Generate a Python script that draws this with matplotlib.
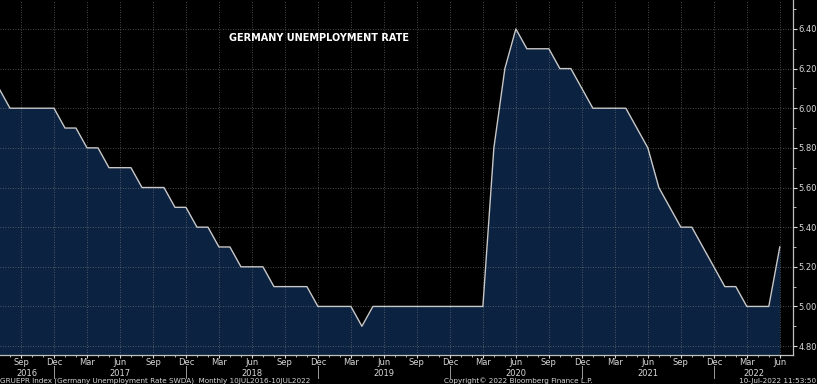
import matplotlib
matplotlib.use("Agg")
import matplotlib.pyplot as plt
from matplotlib.ticker import FixedLocator, MultipleLocator
import numpy as np

# Monthly data, Jul 2016 .. Jun 2022
start_year, start_month = 2016, 7
rates = [
    6.1, 6.0, 6.0, 6.0, 6.0, 6.0,                                  # 2016 Jul-Dec
    5.9, 5.9, 5.8, 5.8, 5.7, 5.7, 5.7, 5.6, 5.6, 5.6, 5.5, 5.5,    # 2017
    5.4, 5.4, 5.3, 5.3, 5.2, 5.2, 5.2, 5.1, 5.1, 5.1, 5.1, 5.0,    # 2018
    5.0, 5.0, 5.0, 4.9, 5.0, 5.0, 5.0, 5.0, 5.0, 5.0, 5.0, 5.0,    # 2019
    5.0, 5.0, 5.0, 5.8, 6.2, 6.4, 6.3, 6.3, 6.3, 6.2, 6.2, 6.1,    # 2020
    6.0, 6.0, 6.0, 6.0, 5.9, 5.8, 5.6, 5.5, 5.4, 5.4, 5.3, 5.2,    # 2021
    5.1, 5.1, 5.0, 5.0, 5.0, 5.3,                                  # 2022 Jan-Jun
]
month_names = ["Jan", "Feb", "Mar", "Apr", "May", "Jun",
               "Jul", "Aug", "Sep", "Oct", "Nov", "Dec"]
y_ticks = [4.80, 5.00, 5.20, 5.40, 5.60, 5.80, 6.00, 6.20, 6.40]
title = "GERMANY UNEMPLOYMENT RATE"
footer_left = "GRUEPR Index (Germany Unemployment Rate SWDA)  Monthly 10JUL2016-10JUL2022"
footer_mid = "Copyright\u00a9 2022 Bloomberg Finance L.P."
footer_right = "10-Jul-2022 11:53:50"

n = len(rates)
x = np.arange(n)
months = [(start_month - 1 + i) % 12 + 1 for i in range(n)]
years = [start_year + (start_month - 1 + i) // 12 for i in range(n)]

BG = "black"
FILL = "#0b2241"
TXT = "#d8d8d8"

fig = plt.figure(figsize=(8.17, 3.84), dpi=100, facecolor=BG)
ax = fig.add_axes([0.0, 29/384, 793/817, 1 - 29/384])
ax.set_facecolor(BG)

xmin, xmax = 0.09, 72.2
ymin, ymax = 4.755, 6.546
ax.set_xlim(xmin, xmax)
ax.set_ylim(ymin, ymax)

ax.fill_between(x, rates, ymin, color=FILL, zorder=1, linewidth=0)
ax.plot(x, rates, color="#c8c8c8", linewidth=1.0, zorder=3)

# quarterly ticks
q_idx = [i for i in range(n) if months[i] in (3, 6, 9, 12)]
ax.xaxis.set_major_locator(FixedLocator(q_idx))
ax.set_xticklabels([month_names[months[i] - 1] for i in q_idx])
ax.xaxis.set_minor_locator(FixedLocator([i for i in range(n) if i not in q_idx]))

ax.yaxis.tick_right()
ax.yaxis.set_major_locator(FixedLocator(y_ticks))
ax.set_yticklabels([f"{v:.2f}" for v in y_ticks])
ax.yaxis.set_minor_locator(MultipleLocator(0.1))

ax.tick_params(axis="x", which="major", colors=TXT, labelsize=6.0, length=2,
               width=0.8, pad=0.5, direction="out")
ax.tick_params(axis="x", which="minor", colors=TXT, length=1.5, width=0.6)
ax.tick_params(axis="y", which="major", colors=TXT, labelsize=6.0, length=3,
               width=0.8, pad=1, direction="out")
ax.tick_params(axis="y", which="minor", colors=TXT, length=2, width=0.6)

for s in ("top", "left"):
    ax.spines[s].set_visible(False)
for s in ("bottom", "right"):
    ax.spines[s].set_color("#bfbfbf")
    ax.spines[s].set_linewidth(0.9)

ax.grid(True, which="major", color="#8a8a8a", linestyle=(0, (1, 2)),
        linewidth=0.6, alpha=0.7, zorder=2)
ax.set_axisbelow(False)

# year separators and labels
dec_idx = [i for i in range(n) if months[i] == 12]
trans = ax.get_xaxis_transform()
for i in dec_idx:
    ax.plot([i, i], [-0.03, -0.064], transform=trans, color="#9a9a9a",
            linewidth=0.7, clip_on=False)
bounds = [xmin] + dec_idx + [xmax]
for a, b in zip(bounds[:-1], bounds[1:]):
    mid = (a + b) / 2
    yr = years[min(int(np.ceil(a + 0.5)), n - 1)]
    ax.text(mid, -0.052, str(yr), transform=trans, ha="center", va="center",
            color=TXT, fontsize=6.0)

ax.text(0.402, 0.893, title, transform=ax.transAxes, ha="center", va="center",
        color="white", fontsize=7.0, fontweight="bold")

fig.text(0.0, 0.0, footer_left, ha="left", va="bottom", color=TXT, fontsize=5.2)
fig.text(0.634, 0.0, footer_mid, ha="center", va="bottom", color=TXT, fontsize=5.2)
fig.text(0.999, 0.0, footer_right, ha="right", va="bottom", color=TXT, fontsize=5.2)

fig.savefig("out.png", dpi=100, facecolor=BG)
